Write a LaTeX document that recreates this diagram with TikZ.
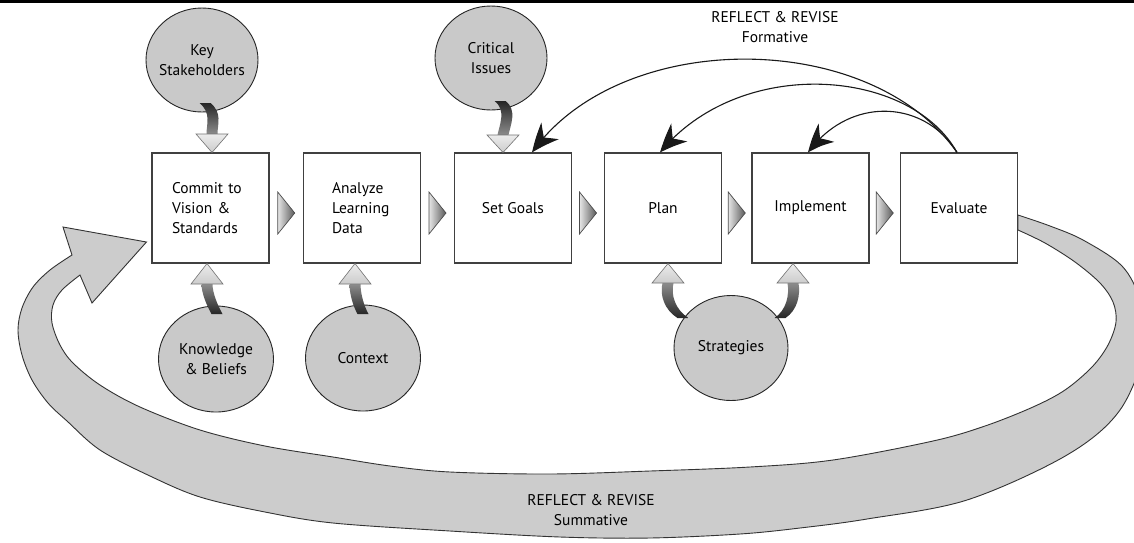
\documentclass[tikz,border=0pt]{standalone}
\usepackage{fontspec}
\setmainfont{PT Sans}
\usetikzlibrary{calc,shapes.geometric,arrows.meta,bending}
\newcommand{\fatarrow}[6]{%
  \shade[#6] ($(#1)+(-5.5,0)$) .. controls ($(#2)+(-5.5,0)$) and ($(#3)+(-5.5,0)$) .. ($(#4)+(-5.5,0)$)
     -- ($(#4)+(5.5,0)$) .. controls ($(#3)+(5.5,0)$) and ($(#2)+(5.5,0)$) .. ($(#1)+(5.5,0)$) -- cycle;
  \shadedraw[smallhead] ($(#4)+(-16,0)$) -- (#4 |- #5) -- ($(#4)+(16,0)$) -- cycle;}
\begin{document}
\begin{tikzpicture}[x=1pt,y=-1pt,
  txt/.style={font=\fontsize{15.5}{20}\selectfont, text=black},
  box/.style={txt, draw=black!75, line width=1.1pt, fill=white, minimum width=117pt,
              minimum height=110pt, inner sep=0pt, align=center},
  bubble/.style={ellipse, draw=black!85, line width=0.9pt, fill=gray!42,
              minimum width=112pt, minimum height=104pt, inner sep=0pt},
  bubtext/.style={txt, align=center},
  band/.style={fill=gray!40, draw=black!80, line width=0.9pt},
  fb/.style={line width=1.1pt, black!90, -{Stealth[length=28pt,width=24pt,inset=9pt,bend]}},
  smallhead/.style={top color=gray!15, bottom color=gray!40, draw=black!55, line width=0.6pt},
  tri/.style={left color=gray!20, right color=black!65, draw=black!70, line width=0.7pt},
  dshade/.style={top color=black!85, bottom color=black!45},
  ushade/.style={top color=black!45, bottom color=black!85}]
\useasboundingbox (0,0) rectangle (1134,542);
\clip (0,0) rectangle (1134,542);
\fill[white] (0,0) rectangle (1134,542);
\draw[line width=3pt] (0,1.5) -- (1134,1.5);

% boxes
\node[box, text width=77pt, align=left] (commit) at (210.5,208) {Commit to\\Vision \&\\Standards};
\node[box, text width=60pt, align=left] (analyze) at (362,208) {Analyze\\Learning\\Data};
\node[box] (goals) at (513,208) {Set Goals};
\node[box] (plan) at (663,208) {Plan};
\node[box] (impl) at (810.5,208) {Implement};
\node[box] (eval) at (959,208) {Evaluate};

% summative band with arrowhead
\draw[band] (80,275) -- (92,303) -- ($(commit.west)+(-5,34)$) -- (63,227) -- (72,255)
  -- plot[smooth, tension=0.55] coordinates {(72,255) (50,270) (33,287) (22,308) (18,330) (22,355)
     (32,380) (48,403) (67,421) (100,450) (150,476) (200,497) (265,512) (333,523) (450,531)
     (560,537) (650,538) (740,534) (800,528) (867,519) (967,500) (1067,455) (1120,410)
     (1146,345) (1140,300) (1122,266) (1083,240) (1050,226) (1018,215)}
  -- (1018,230)
  -- plot[smooth, tension=0.55] coordinates {(1018,230) (1045,243) (1075,262) (1100,283)
     (1113,302) (1116,322) (1108,345) (1092,367) (1065,390) (1033,407) (985,426) (933,441)
     (833,460) (750,467) (650,471) (550,474) (450,472) (390,466) (333,457) (265,446) (200,430)
     (140,407) (100,385) (73,363) (60,345) (52,323) (53,305) (62,290) (80,275)}
  -- cycle;
\node[bubtext] (summ) at (591,510) {REFLECT \& REVISE\\Summative};

% formative arrows
\node[bubtext] (form) at (775,27) {REFLECT \& REVISE\\Formative};
\draw[fb] ([xshift=-2pt]eval.north) .. controls (870,28) and (620,28) .. ([xshift=19pt]goals.north);
\draw[fb] ([xshift=-2pt]eval.north) .. controls (910,68) and (740,55) .. ([xshift=-3pt]plan.north);
\draw[fb] ([xshift=-2pt]eval.north) .. controls (925,100) and (850,95) .. ([xshift=-2.5pt]impl.north);

% bubbles
\node[bubble, label={[bubtext]center:Key\\Stakeholders}] (key) at (202,60) {};
\node[bubble, label={[bubtext]center:Critical\\Issues}] (crit) at (491,58) {};
\node[bubble, minimum width=115pt, minimum height=106pt, label={[bubtext]center:Knowledge\\\& Beliefs}] (know) at (216,359) {};
\node[bubble, minimum width=115pt, minimum height=106pt, label={[bubtext]center:Context}] (ctx) at (363,358) {};
\node[bubble, minimum width=114pt, minimum height=105pt, label={[bubtext]center:Strategies}] (strat) at (731,348) {};

% small curved arrows
\fatarrow{205,103}{217,113}{212,124}{212,134}{commit.north}{dshade}
\fatarrow{500,101}{512,110}{505,125}{503,135}{goals.north}{dshade}
\fatarrow{217,314}{212,305}{207,293}{207,284}{commit.south}{ushade}
\fatarrow{363,314}{358,305}{355,293}{355,284}{analyze.south}{ushade}
\fatarrow{683,318}{670,310}{665,295}{668,283}{plan.south}{ushade}
\fatarrow{780,318}{792,310}{795,295}{793,283}{impl.south}{ushade}

% triangles between boxes
\foreach \a/\b in {commit/analyze, analyze/goals, goals/plan, plan/impl, impl/eval} {
  \coordinate (m) at ($(\a.east)!0.5!(\b.west)$);
  \shadedraw[tri] ($(m)+(-8.5,-16)$) -- ($(m)+(8.5,5)$) -- ($(m)+(-8.5,26)$) -- cycle;
}
\end{tikzpicture}
\end{document}
